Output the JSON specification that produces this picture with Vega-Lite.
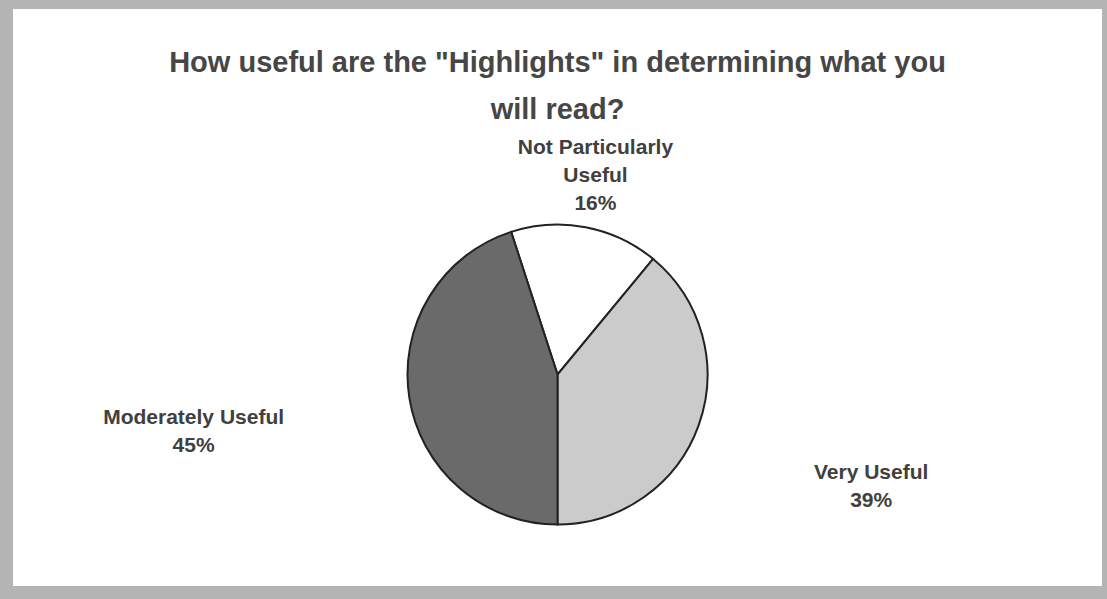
{
  "$schema": "https://vega.github.io/schema/vega-lite/v6.json",
  "background": "#b4b4b4",
  "padding": {"left": 13, "top": 9, "right": 5, "bottom": 13},
  "spacing": 0,
  "bounds": "flush",
  "config": {
    "view": {"stroke": null, "fill": "#ffffff"},
    "concat": {"spacing": 0}
  },
  "vconcat": [
    {
      "width": 1089,
      "height": 154,
      "view": {"stroke": null, "fill": "#ffffff"},
      "data": {"values": [{"question": "How useful are the \"Highlights\" in determining what you\nwill read?"}]},
      "mark": {
        "type": "text",
        "lineBreak": "\n",
        "font": "Liberation Sans",
        "fontWeight": "bold",
        "fontSize": 29,
        "lineHeight": 47,
        "baseline": "middle",
        "dy": {"expr": "-(length(split(datum.question, '\\n')) - 1) * 23.5"},
        "fill": "#464646"
      },
      "encoding": {"text": {"field": "question", "type": "nominal"}}
    },
    {
      "width": 1089,
      "height": 423,
      "view": {"stroke": null, "fill": "#ffffff"},
      "data": {
        "values": [
          {"answer": "Not Particularly Useful", "label_text": "Not Particularly\nUseful", "percent": 16},
          {"answer": "Very Useful", "label_text": "Very Useful", "percent": 39},
          {"answer": "Moderately Useful", "label_text": "Moderately Useful", "percent": 45}
        ]
      },
      "transform": [
        {"joinaggregate": [{"op": "sum", "field": "percent", "as": "total"}]},
        {"calculate": "datum.label_text + '\\n' + datum.percent + '%'", "as": "label"}
      ],
      "encoding": {
        "theta": {
          "field": "percent",
          "type": "quantitative",
          "stack": true,
          "scale": {"range": [3.14159265, 9.42477796]}
        }
      },
      "layer": [
        {
          "mark": {"type": "arc", "outerRadius": 150, "stroke": "#222222", "strokeWidth": 2},
          "encoding": {
            "color": {
              "field": "answer",
              "type": "nominal",
              "legend": null,
              "scale": {
                "domain": ["Moderately Useful", "Not Particularly Useful", "Very Useful"],
                "range": ["#6a6a6a", "#ffffff", "#cbcbcb"]
              }
            }
          }
        },
        {
          "mark": {
            "type": "text",
            "radius": {"expr": "1 / sqrt(pow(sin(PI + PI * (datum.percent_start + datum.percent_end) / datum.total) / 380, 2) + pow(cos(PI + PI * (datum.percent_start + datum.percent_end) / datum.total) / 200, 2))"},
            "lineBreak": "\n",
            "font": "Liberation Sans",
            "fontWeight": "bold",
            "fontSize": 21,
            "lineHeight": 28,
            "baseline": "middle",
            "align": "center",
            "dy": {"expr": "-(length(split(datum.label, '\\n')) - 1) * 14"},
            "fill": "#404040"
          },
          "encoding": {
            "detail": {"field": "answer", "type": "nominal"},
            "text": {"field": "label", "type": "nominal"}
          }
        }
      ]
    }
  ]
}
